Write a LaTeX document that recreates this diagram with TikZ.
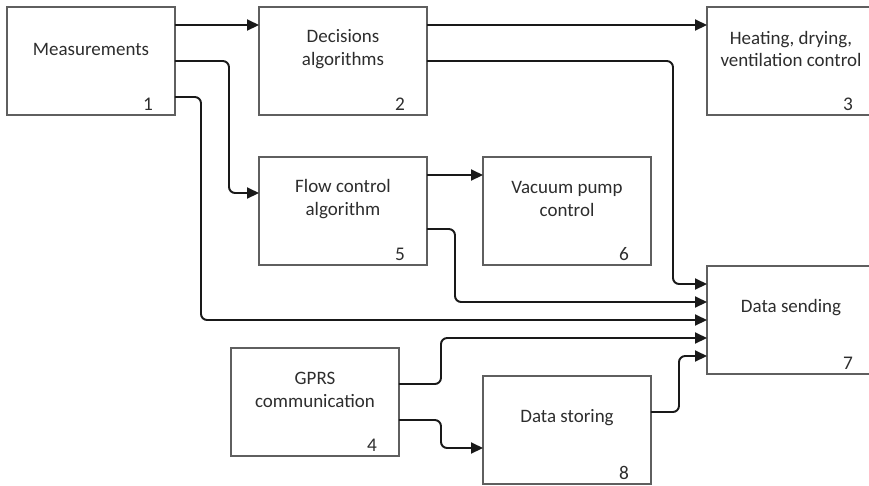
\documentclass[tikz,border=0pt]{standalone}
\usepackage{fontspec}
\setmainfont{Carlito}
\usepackage{tikz}
\usetikzlibrary{arrows.meta, calc}
\definecolor{boxEdge}{RGB}{95, 95, 95}
\definecolor{inkDark}{RGB}{45, 45, 45}
\definecolor{wireDark}{RGB}{25, 25, 25}

\tikzset{
  box/.style={draw=boxEdge, line width=0.7pt, minimum width=3.36cm, minimum height=2.16cm, outer sep=0pt, inner sep=0pt},
  boxtext/.style={align=center, text=inkDark, font=\fontsize{10.8}{13}\selectfont, inner sep=0pt},
  boxnum/.style={text=inkDark, font=\fontsize{11}{13}\selectfont, inner sep=0pt},
  link/.style={draw=wireDark, line width=1.1pt, rounded corners=3.5pt, -{Triangle[length=0.24cm, width=0.22cm]}}
}

\begin{document}
\begin{tikzpicture}[x=0.02cm, y=-0.02cm]
    \useasboundingbox (0,0) rectangle (869,486);
    \clip (0,0) rectangle (869,486);
    % Blocks: name / centre / text / number
    \foreach \n/\x/\y/\txt/\num in {
        meas/91/61/{Measurements}/1,
        dec/343/61/{Decisions\\algorithms}/2,
        heat/791/61/{Heating, drying,\\ventilation control}/3,
        gprs/315/402/{GPRS\\communication}/4,
        flow/343/211/{Flow control\\algorithm}/5,
        vac/567/211/{Vacuum pump\\control}/6,
        data/791/320/{Data sending}/7,
        store/567/430/{Data storing}/8}
    {
      \node[box] (\n) at (\x,\y) {};
      \node[boxtext] (\n-txt) at ($(\n.center)+(0,-12)$) {\txt};
      \node[boxnum] (\n-num) at ($(\n.south east)+(-27,-11)$) {\num};
    }
    % Straight links
    \draw[link] ($(meas.north east)+(0,18)$) -- ($(dec.north west)+(0,18)$);
    \draw[link] ($(dec.north east)+(0,18)$) -- ($(heat.north west)+(0,18)$);
    \draw[link] ($(flow.north east)+(0,18)$) -- ($(vac.north west)+(0,18)$);
    % Routed links
    \draw[link] ($(meas.north east)+(0,54)$) -- ++(54,0) |- ($(flow.north west)+(0,36)$);
    \draw[link] ($(meas.north east)+(0,90)$) -- ++(26,0) |- ($(data.north west)+(0,54)$);
    \draw[link] ($(dec.north east)+(0,54)$) -- ++(246,0) |- ($(data.north west)+(0,18)$);
    \draw[link] ($(flow.north east)+(0,72)$) -- ++(28,0) |- ($(data.north west)+(0,36)$);
    \draw[link] ($(gprs.north east)+(0,36)$) -- ++(42,0) |- ($(data.north west)+(0,72)$);
    \draw[link] ($(gprs.north east)+(0,72)$) -- ++(42,0) |- ($(store.north west)+(0,72)$);
    \draw[link] ($(store.north east)+(0,36)$) -- ++(28,0) |- ($(data.north west)+(0,90)$);
\end{tikzpicture}
\end{document}
